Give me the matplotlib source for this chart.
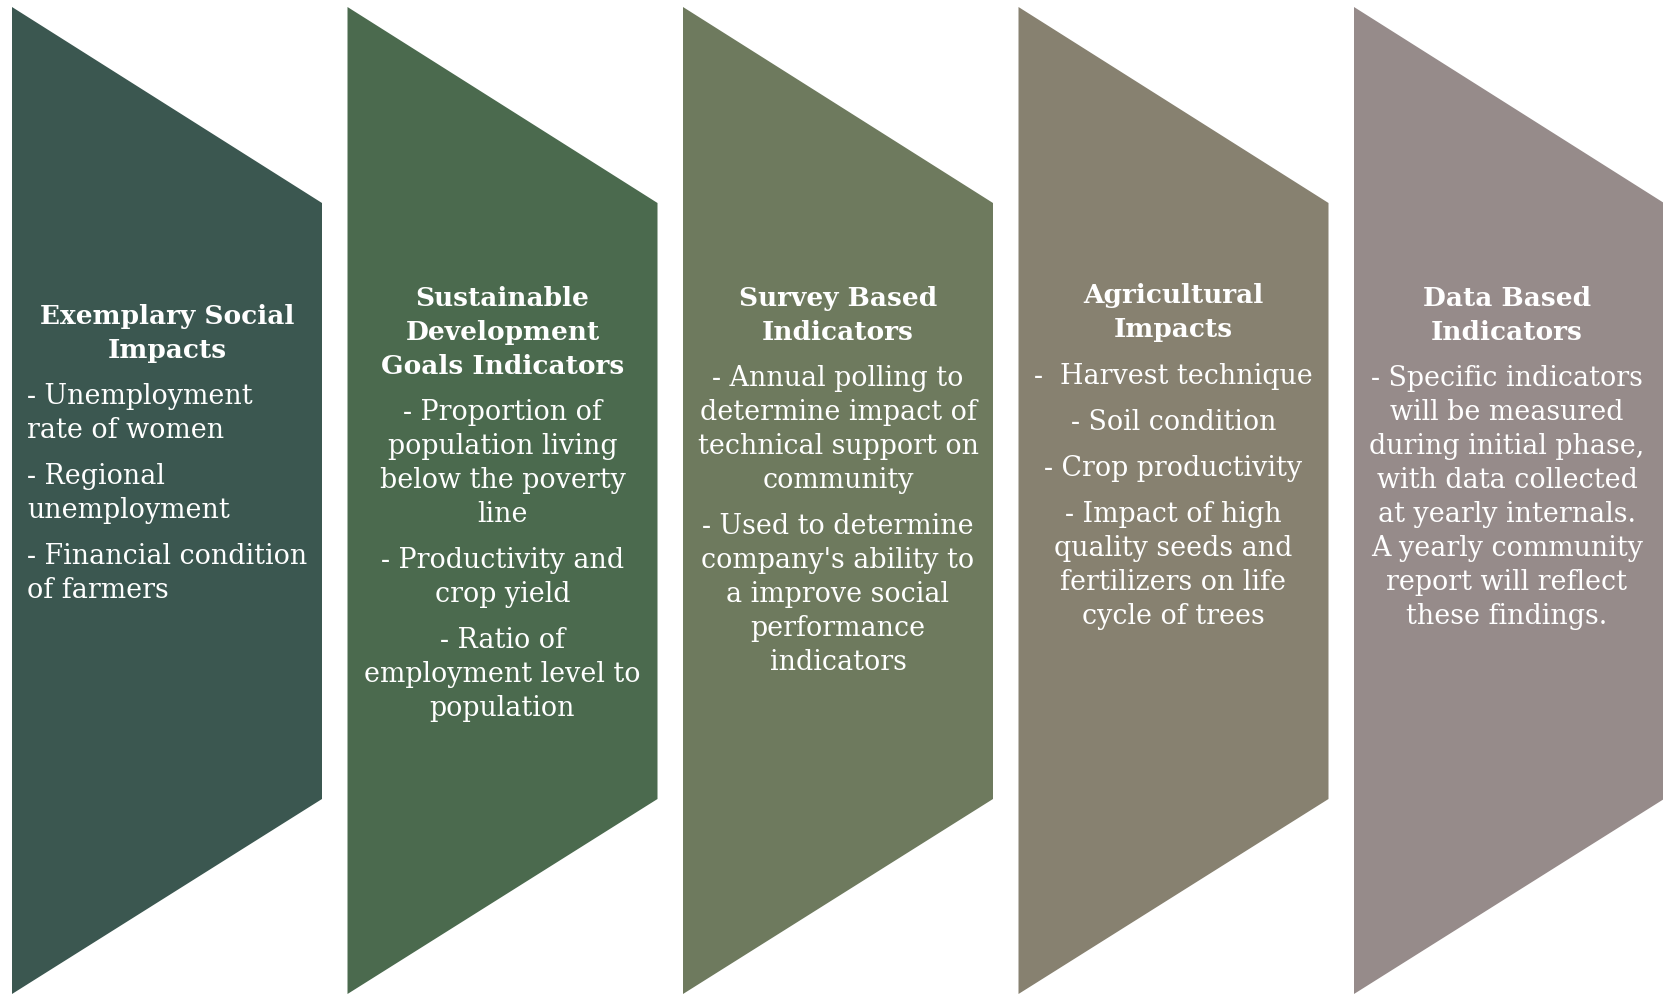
import matplotlib.pyplot as plt
from matplotlib.patches import Polygon

# Column data
titles = [
    ["Exemplary Social", "Impacts"],
    ["Sustainable", "Development", "Goals Indicators"],
    ["Survey Based", "Indicators"],
    ["Agricultural", "Impacts"],
    ["Data Based", "Indicators"],
]
bodies = [
    [["- Unemployment", "rate of women"],
     ["- Regional", "unemployment"],
     ["- Financial condition", "of farmers"]],
    [["- Proportion of", "population living", "below the poverty", "line"],
     ["- Productivity and", "crop yield"],
     ["- Ratio of", "employment level to", "population"]],
    [["- Annual polling to", "determine impact of", "technical support on", "community"],
     ["- Used to determine", "company's ability to", "a improve social", "performance", "indicators"]],
    [["-  Harvest technique"],
     ["- Soil condition"],
     ["- Crop productivity"],
     ["- Impact of high", "quality seeds and", "fertilizers on life", "cycle of trees"]],
    [["- Specific indicators", "will be measured", "during initial phase,", "with data collected",
      "at yearly internals.", "A yearly community", "report will reflect", "these findings."]],
]
colors = ["#3B5750", "#4B6A4E", "#6E7A5E", "#878170", "#968B8A"]
body_align = ["left", "center", "center", "center", "center"]

# Layout (pixels)
W, H = 1663, 994
X0, STEP, WIDTH = 12, 335.5, 310
TOP_L, TOP_R, BOT_R, BOT_L = 7, 203, 799, 994
title_y = [314, 296, 296, 293, 296]
LINE = 34
GAP = 46
FONT = "DejaVu Serif"
TSIZE = 19
BSIZE = 19.4

fig = plt.figure(figsize=(W / 100, H / 100), dpi=100)
ax = fig.add_axes([0, 0, 1, 1])
ax.set_xlim(0, W)
ax.set_ylim(H, 0)
ax.axis("off")

for i in range(len(titles)):
    x0 = X0 + i * STEP
    x1 = x0 + WIDTH
    poly = Polygon([(x0, TOP_L), (x1, TOP_R), (x1, BOT_R), (x0, BOT_L)],
                   closed=True, facecolor=colors[i], edgecolor="none")
    ax.add_patch(poly)

    cx = x0 + WIDTH / 2
    if i == 4:
        cx = x0 + 153
    y = title_y[i]
    for line in titles[i]:
        ax.text(cx, y, line, ha="center", va="center_baseline", color="white",
                fontsize=TSIZE, fontweight="bold", family=FONT)
        y += LINE
    y += GAP - LINE
    for p, para in enumerate(bodies[i]):
        if p > 0:
            y += GAP - LINE
        for line in para:
            if body_align[i] == "left":
                ax.text(x0 + 15, y, line, ha="left", va="center_baseline", color="white",
                        fontsize=BSIZE, family=FONT)
            else:
                ax.text(cx, y, line, ha="center", va="center_baseline", color="white",
                        fontsize=BSIZE, family=FONT)
            y += LINE

fig.savefig("out.png", dpi=100)
